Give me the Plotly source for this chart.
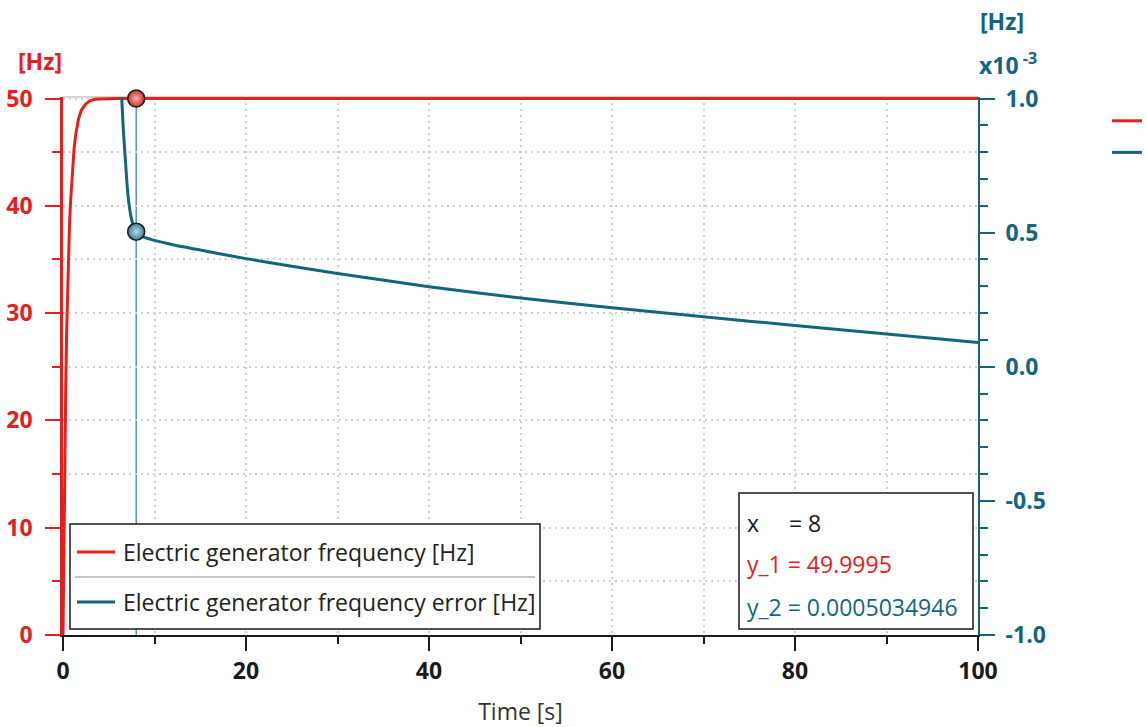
import plotly.graph_objects as go

# ---------------- data ----------------
t_freq = [0, 0.1, 0.2, 0.3, 0.4, 0.5, 0.6, 0.7, 0.8, 1.0, 1.2, 1.4, 1.7, 2.0, 2.5,
          3.0, 3.5, 4.0, 5.0, 6.0, 8.0, 10, 20, 40, 60, 80, 100]
freq = [0, 9.5, 17.2, 23.3, 28.3, 32.2, 35.3, 37.9, 40.0, 43.0, 45.2, 46.7, 48.1,
        48.9, 49.5, 49.8, 49.92, 49.96, 49.99, 49.998, 49.9995, 49.9997, 50, 50, 50, 50, 50]

t_err = [6.3, 6.45, 6.6, 6.8, 7.0, 7.2, 7.4, 7.6, 7.8, 8.0, 8.5, 9.0, 9.5, 10, 12, 15,
         20, 25, 30, 40, 50, 60, 70, 80, 90, 100]
freq_err = [0.0011, 0.00098, 0.00088, 0.00078, 0.00068, 0.00061, 0.000565, 0.000535,
            0.000515, 0.0005034946, 0.000489, 0.000481, 0.000476, 0.000471, 0.000455,
            0.000435, 0.000403, 0.000375, 0.000348, 0.000298, 0.000256, 0.00022,
            0.000186, 0.000154, 0.000122, 0.00009]

cursor_x = 8
cursor_y1 = 49.9995
cursor_y2 = 0.0005034946

y2_tickvals = [-0.001, -0.0005, 0, 0.0005, 0.001]
y2_ticktext = ["-1.0", "-0.5", "0.0", "0.5", "1.0"]

name_1 = "Electric generator frequency [Hz]"
name_2 = "Electric generator frequency error [Hz]"

# ---------------- styles ----------------
RED = "#E5201C"
BLUE = "#13657F"
CURSOR = "#4D92D9"
GRID = "#D0D0D0"
GDASH = "2px,4px"
FONT = "Open Sans"
FS = 23

fig = go.Figure()
fig.add_trace(go.Scatter(x=t_freq, y=freq, mode="lines", name=name_1,
                         line=dict(color=RED, width=3), legendgroup="a"))
fig.add_trace(go.Scatter(x=t_err, y=freq_err, mode="lines", name=name_2, yaxis="y2",
                         line=dict(color=BLUE, width=3, shape="spline", smoothing=0.6),
                         legendgroup="b"))
fig.add_trace(go.Scatter(x=[cursor_x], y=[cursor_y1], mode="markers", showlegend=False,
                         marker=dict(size=17, color="#D42A26",
                                     gradient=dict(type="radial", color="#F9B3B0"),
                                     line=dict(color="#1a1a1a", width=1.6)), cliponaxis=False))
fig.add_trace(go.Scatter(x=[cursor_x], y=[cursor_y2], mode="markers", yaxis="y2", showlegend=False,
                         marker=dict(size=17, color="#3A7F96",
                                     gradient=dict(type="radial", color="#B5DAE6"),
                                     line=dict(color="#1a1a1a", width=1.6)), cliponaxis=False))

W, H = 1147, 727
L, R, T, B = 63, 169, 97, 92
PW, PH = W - L - R, H - T - B


def px(p):
    return (p - L) / PW


def py(q):
    return (H - B - q) / PH


# tiny headroom so the 50 Hz line is not half-clipped at the plot top
pad1 = 50 * 1.5 / PH
pad2 = 0.002 * 1.5 / PH

shapes = [
    dict(type="line", xref="paper", yref="paper", x0=0, x1=1, y0=1, y1=1,
         line=dict(color="#C4C4C4", width=1.5), layer="below"),
    dict(type="line", xref="x", yref="paper", x0=cursor_x, x1=cursor_x, y0=0, y1=1,
         line=dict(color=CURSOR, width=1.5), layer="below"),
    dict(type="rect", xref="paper", yref="paper", x0=px(70), x1=px(540), y0=py(629), y1=py(524),
         fillcolor="white", line=dict(color="#1a1a1a", width=1.5), layer="above"),
    dict(type="line", xref="paper", yref="paper", x0=px(75), x1=px(535), y0=py(577), y1=py(577),
         line=dict(color="#B0B0B0", width=1.5), layer="above"),
    dict(type="line", xref="paper", yref="paper", x0=px(77), x1=px(115), y0=py(552), y1=py(552),
         line=dict(color=RED, width=3), layer="above"),
    dict(type="line", xref="paper", yref="paper", x0=px(77), x1=px(115), y0=py(602), y1=py(602),
         line=dict(color=BLUE, width=3), layer="above"),
    dict(type="rect", xref="paper", yref="paper", x0=px(739), x1=px(973), y0=py(629), y1=py(493),
         fillcolor="white", line=dict(color="#1a1a1a", width=1.5), layer="above"),
]

ann_font = dict(family=FONT, size=FS)
annotations = [
    dict(text="[Hz]", xref="paper", yref="paper", x=px(40), y=py(61), showarrow=False,
         xanchor="center", yanchor="middle", font=dict(family=FONT, size=FS, color=RED, weight="bold")),
    dict(text="[Hz]", xref="paper", yref="paper", x=px(1002), y=py(21), showarrow=False,
         xanchor="center", yanchor="middle", font=dict(family=FONT, size=FS, color=BLUE, weight="bold")),
    dict(text="x10<sup> -3</sup>", xref="paper", yref="paper", x=px(977), y=py(64), showarrow=False,
         xanchor="left", yanchor="middle", font=dict(family=FONT, size=FS, color=BLUE, weight="bold")),
    dict(text=name_1, xref="paper", yref="paper", x=px(121), y=py(552), showarrow=False,
         xanchor="left", yanchor="middle", font=dict(ann_font, color="#222222")),
    dict(text=name_2, xref="paper", yref="paper", x=px(121), y=py(602), showarrow=False,
         xanchor="left", yanchor="middle", font=dict(ann_font, color="#222222")),
    dict(text="x\u00a0\u00a0\u00a0\u00a0\u00a0= " + str(cursor_x), xref="paper", yref="paper",
         x=px(745), y=py(523), showarrow=False, xanchor="left", yanchor="middle",
         font=dict(ann_font, color="#1a1a1a")),
    dict(text="y_1 = " + str(cursor_y1), xref="paper", yref="paper",
         x=px(745), y=py(564), showarrow=False, xanchor="left", yanchor="middle",
         font=dict(ann_font, color=RED)),
    dict(text="y_2 = " + str(cursor_y2), xref="paper", yref="paper",
         x=px(745), y=py(607), showarrow=False, xanchor="left", yanchor="middle",
         font=dict(ann_font, color=BLUE)),
]

fig.update_layout(
    width=W, height=H, autosize=False,
    margin=dict(l=L, r=R, t=T, b=B, autoexpand=False),
    paper_bgcolor="white", plot_bgcolor="white",
    font=dict(family=FONT, size=FS, color="#222222"),
    showlegend=True,
    legend=dict(x=px(1107), y=py(100), xanchor="left", yanchor="top",
                font=dict(family=FONT, size=22), bgcolor="rgba(0,0,0,0)",
                traceorder="grouped", tracegroupgap=0),
    xaxis=dict(range=[0, 100], dtick=20, tick0=0, showline=True, linecolor="#1a1a1a", linewidth=2,
               ticks="outside", ticklen=14, tickwidth=2, tickcolor="#1a1a1a",
               tickfont=dict(family=FONT, size=FS, color="#1a1a1a", weight="bold"),
               showgrid=True, gridcolor=GRID, griddash=GDASH, gridwidth=1.5, zeroline=False,
               minor=dict(dtick=10, tick0=0, ticks="outside", ticklen=7, tickwidth=2, tickcolor="#1a1a1a",
                          showgrid=True, gridcolor=GRID, griddash=GDASH, gridwidth=1.5),
               title=dict(text="Time [s]", font=dict(family=FONT, size=FS, color="#333333"), standoff=20)),
    yaxis=dict(range=[0, 50 + pad1], dtick=10, tick0=0, showline=True, linecolor=RED, linewidth=2.5,
               ticks="outside", ticklen=15, tickwidth=2, tickcolor=RED,
               tickfont=dict(family=FONT, size=FS, color=RED, weight="bold"),
               ticklabelstandoff=8,
               showgrid=True, gridcolor=GRID, griddash=GDASH, gridwidth=1.5, zeroline=False,
               minor=dict(dtick=5, tick0=0, ticks="outside", ticklen=8, tickwidth=2, tickcolor=RED,
                          showgrid=True, gridcolor=GRID, griddash=GDASH, gridwidth=1.5)),
    yaxis2=dict(range=[-0.001, 0.001 + pad2], overlaying="y", side="right", anchor="x",
                tickmode="array", tickvals=y2_tickvals, ticktext=y2_ticktext,
                showline=True, linecolor=BLUE, linewidth=2,
                ticks="outside", ticklen=15, tickwidth=2, tickcolor=BLUE,
                tickfont=dict(family=FONT, size=FS, color=BLUE, weight="bold"),
                ticklabelstandoff=6,
                showgrid=False, zeroline=False,
                minor=dict(tickmode="linear", dtick=0.0001, tick0=0, ticks="outside", ticklen=8,
                           tickwidth=2, tickcolor=BLUE, showgrid=False)),
    shapes=shapes,
    annotations=annotations,
)

fig.write_html("out.html", config={"displayModeBar": False},
               post_script="document.body.style.margin='0';document.body.style.overflow='hidden';")
